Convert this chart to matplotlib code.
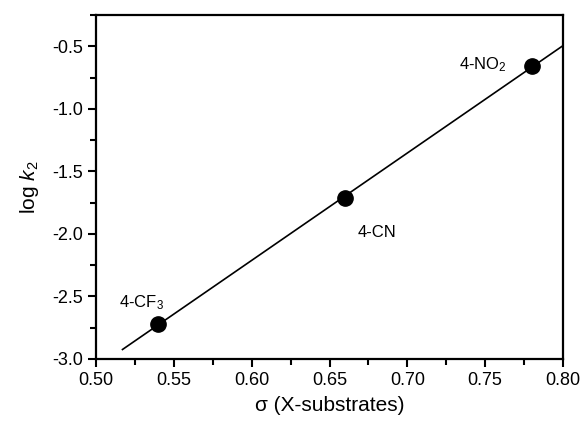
import numpy as np
import matplotlib
matplotlib.use("Agg")
import matplotlib.pyplot as plt
from matplotlib.ticker import MultipleLocator

plt.rcParams['font.family'] = ['Liberation Sans', 'DejaVu Sans']
plt.rcParams['mathtext.fontset'] = 'custom'
plt.rcParams['mathtext.rm'] = 'Liberation Sans'
plt.rcParams['mathtext.it'] = 'Liberation Sans:italic'

# Hammett data
sigma = [0.54, 0.66, 0.78]
log_k2 = [-2.72, -1.71, -0.66]
substituents = ['4-CF$_3$', '4-CN', '4-NO$_2$']
label_x = [0.515, 0.668, 0.733]
label_y = [-2.55, -1.99, -0.645]

xticks = [0.50, 0.55, 0.60, 0.65, 0.70, 0.75, 0.80]
yticks = [-3.0, -2.5, -2.0, -1.5, -1.0, -0.5]

fig = plt.figure(figsize=(5.83, 4.32), dpi=100)
ax = fig.add_axes([0.1647, 0.169, 0.801, 0.7963])

# linear fit
slope, intercept = np.polyfit(sigma, log_k2, 1)
xf = np.array([0.517, 0.80])
ax.plot(xf, slope * xf + intercept, color='black', lw=1.2, zorder=2)
ax.plot(sigma, log_k2, 'o', color='black', ms=11, zorder=3)

for t, lx, ly in zip(substituents, label_x, label_y):
    ax.text(lx, ly, t, fontsize=12, ha='left', va='center')

ax.set_xlim(0.50, 0.80)
ax.set_ylim(-3.0, -0.25)
ax.set_xticks(xticks)
ax.set_yticks(yticks)
ax.set_xticklabels([f'{v:.2f}' for v in xticks])
ax.set_yticklabels([f'{v:.1f}' for v in yticks])
ax.xaxis.set_minor_locator(MultipleLocator(0.025))
ax.yaxis.set_minor_locator(MultipleLocator(0.25))
ax.tick_params(which='both', direction='out', width=1.5, labelsize=13,
               top=False, right=False)
ax.tick_params(which='major', length=6)
ax.tick_params(which='minor', length=4)
for s in ax.spines.values():
    s.set_linewidth(1.6)

ax.set_xlabel('σ (X-substrates)', fontsize=15)
ax.set_ylabel('log $k_2$', fontsize=15)
ax.xaxis.set_label_coords(0.5, -0.108)
ax.yaxis.set_label_coords(-0.118, 0.5)

fig.savefig('out.png', dpi=100)
